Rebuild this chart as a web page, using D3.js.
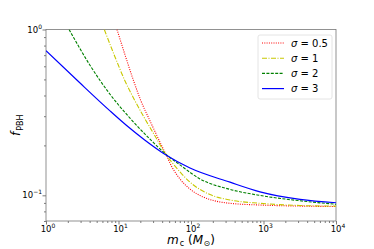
<!DOCTYPE html>
<html>
<head>
<meta charset="utf-8">
<script src="https://cdn.jsdelivr.net/npm/d3@7"></script>
<style>
  body { margin: 0; background: #fff; }
  text { font-family: "DejaVu Sans", sans-serif; }
</style>
</head>
<body>
<div id="chart"></div>
<script>
// values: [m_c, f_PBH]
const sigmaRed = [[9.53, 1], [12.7, 0.673], [16.0, 0.496], [20.4, 0.371], [27.2, 0.281], [37.3, 0.2096],
  [45.2, 0.176], [54.7, 0.148], [70.5, 0.1254], [96.9, 0.109], [133, 0.0997], [183, 0.0943],
  [345, 0.0895], [895, 0.0874], [3190, 0.0861], [10000, 0.0856]];
const sigmaYellow = [[6.37, 1], [8.95, 0.683], [12.3, 0.489], [16.9, 0.371], [23.2, 0.2886], [31.9, 0.228],
  [45.2, 0.176], [60.2, 0.150], [96.9, 0.120], [183, 0.101], [345, 0.0937], [895, 0.0895],
  [3190, 0.0868], [10000, 0.0861]];
const sigmaGreen = [[2.08, 1], [4.04, 0.609], [7.63, 0.407], [14.4, 0.292], [27.2, 0.218], [45.2, 0.1765],
  [70.5, 0.1525], [133, 0.1256], [345, 0.1086], [895, 0.0998], [3190, 0.0927], [10000, 0.0883]];
const sigmaBlue = [[1, 0.745], [2.85, 0.482], [7.63, 0.323], [12.7, 0.2655], [23.2, 0.215], [45.2, 0.175],
  [96.9, 0.146], [345, 0.120], [895, 0.105], [3190, 0.0946], [10000, 0.0902]];

const seriesNames = ['\u03c3 = 0.5', '\u03c3 = 1', '\u03c3 = 2', '\u03c3 = 3'];
const xMajor = [1, 10, 100, 1000, 10000];
const yMajor = [0.1, 1];

const W = 374, H = 249;
const mLeft = 46, mRight = 336, mTop = 29.5, mBottom = 221;

const svg = d3.select('#chart').append('svg')
  .attr('width', W).attr('height', H);

const xScale = d3.scaleLog().domain([1, 10000]).range([mLeft, mRight]);
const yScale = d3.scaleLog().domain([0.07, 1]).range([mBottom, mTop]);

svg.append('defs').append('clipPath').attr('id', 'plotClip')
  .append('rect').attr('x', mLeft).attr('y', mTop)
  .attr('width', mRight - mLeft).attr('height', mBottom - mTop);

// minor tick values
const xMinor = [];
for (let e = 0; e < 4; e++) for (let k = 2; k < 10; k++) xMinor.push(k * Math.pow(10, e));
const yMinor = [0.07, 0.08, 0.09, 0.2, 0.3, 0.4, 0.5, 0.6, 0.7, 0.8, 0.9];

const xAxis = d3.axisBottom(xScale).tickValues(xMajor).tickFormat('').tickSize(3.5);
const xAxisMinor = d3.axisBottom(xScale).tickValues(xMinor).tickFormat('').tickSize(2);
const yAxis = d3.axisLeft(yScale).tickValues(yMajor).tickFormat('').tickSize(3.5);
const yAxisMinor = d3.axisLeft(yScale).tickValues(yMinor).tickFormat('').tickSize(2);

[xAxis, xAxisMinor].forEach(ax => {
  svg.append('g').attr('transform', 'translate(0,' + mBottom + ')').call(ax)
    .call(g => g.select('.domain').remove())
    .selectAll('line').attr('stroke', '#444').attr('stroke-width', 0.7);
});
[yAxis, yAxisMinor].forEach(ax => {
  svg.append('g').attr('transform', 'translate(' + mLeft + ',0)').call(ax)
    .call(g => g.select('.domain').remove())
    .selectAll('line').attr('stroke', '#444').attr('stroke-width', 0.7);
});

// tick labels like 10^k
function powLabel(g, x, y, exp, anchor) {
  const t = g.append('text').attr('x', x).attr('y', y)
    .attr('font-size', 8.5).attr('fill', '#000').attr('text-anchor', anchor);
  t.append('tspan').text('10');
  t.append('tspan').attr('dy', -4).attr('font-size', 6).text(exp);
}
const labels = svg.append('g');
xMajor.forEach(v => powLabel(labels, xScale(v) + 2, mBottom + 10.5, String(Math.round(Math.log10(v))), 'middle'));
yMajor.forEach(v => powLabel(labels, mLeft - 4, yScale(v) + 3, (v < 1 ? '\u2212' : '') + String(Math.abs(Math.round(Math.log10(v)))), 'end'));

// frame
svg.append('rect').attr('x', mLeft).attr('y', mTop)
  .attr('width', mRight - mLeft).attr('height', mBottom - mTop)
  .attr('fill', 'none').attr('stroke', '#777').attr('stroke-width', 0.8);

const line = d3.line()
  .x(d => xScale(d[0]))
  .y(d => yScale(d[1]))
  .curve(d3.curveMonotoneX);

const styles = [
  { data: sigmaRed, color: '#ff0000', dash: '1,1.3', width: 1.1 },
  { data: sigmaYellow, color: '#c8c800', dash: '5,1.5,1,1.5', width: 1.1 },
  { data: sigmaGreen, color: '#008000', dash: '3,1.4', width: 1.1 },
  { data: sigmaBlue, color: '#0000ff', dash: null, width: 1.2 }
];

const plot = svg.append('g').attr('clip-path', 'url(#plotClip)');
styles.forEach(s => {
  plot.append('path').datum(s.data)
    .attr('fill', 'none')
    .attr('stroke', s.color)
    .attr('stroke-width', s.width)
    .attr('stroke-dasharray', s.dash)
    .attr('d', line);
});

// legend
const lg = svg.append('g');
lg.append('rect').attr('x', 258).attr('y', 35).attr('width', 74).attr('height', 64)
  .attr('rx', 2).attr('fill', '#fff').attr('stroke', '#ddd').attr('stroke-width', 0.8);
styles.forEach((s, i) => {
  const y = 43 + i * 15.2;
  lg.append('line').attr('x1', 262).attr('x2', 284).attr('y1', y).attr('y2', y)
    .attr('stroke', s.color).attr('stroke-width', s.width)
    .attr('stroke-dasharray', s.dash);
  const t = lg.append('text').attr('x', 291).attr('y', y + 3.8)
    .attr('font-size', 10).attr('fill', '#000');
  t.append('tspan').attr('font-style', 'italic').text('\u03c3');
  t.append('tspan').text(seriesNames[i].slice(1));
});

// axis titles
const yt = svg.append('text')
  .attr('transform', 'translate(20,' + ((mTop + mBottom) / 2) + ') rotate(-90)')
  .attr('text-anchor', 'middle').attr('font-size', 12).attr('fill', '#000');
yt.append('tspan').attr('font-style', 'italic').text('f');
yt.append('tspan').attr('font-size', 8).attr('dx', 1).attr('dy', 3).text('PBH');

const xt = svg.append('text').attr('x', (mLeft + mRight) / 2).attr('y', 244)
  .attr('text-anchor', 'middle').attr('font-size', 12).attr('fill', '#000');
xt.append('tspan').attr('font-style', 'italic').text('m');
xt.append('tspan').attr('font-size', 8).attr('dx', 1).attr('dy', 2).text('c');
xt.append('tspan').attr('dy', -2).text(' (');
xt.append('tspan').attr('font-style', 'italic').text('M');
xt.append('tspan').attr('font-size', 8).attr('dx', 0.5).attr('dy', 2).text('\u2299');
xt.append('tspan').attr('dy', -2).text(')');
</script>
</body>
</html>
